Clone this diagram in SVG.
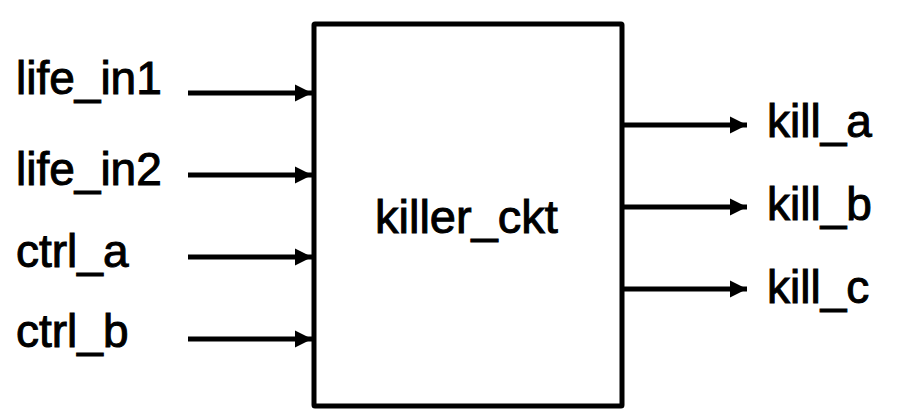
<svg xmlns="http://www.w3.org/2000/svg" width="898" height="418" viewBox="0 0 898 418">
<style>
text{font-family:"Liberation Sans",Arial,sans-serif;font-size:46px;fill:#000;stroke:#000;stroke-width:1}
.w{stroke:#000;stroke-width:5;fill:none}
</style>
<defs>
<marker id="ah" markerUnits="userSpaceOnUse" markerWidth="18" markerHeight="18" refX="17" refY="9" orient="auto">
<path d="M0,0.5 L17,9 L0,17.5 Z" fill="#000"/>
</marker>
</defs>
<rect width="898" height="418" fill="#fff"/>
<g id="killer_ckt">
<rect class="w" x="314" y="24" width="308" height="382" rx="1"/>
<text x="375" y="233" style="font-size:47px">killer_ckt</text>
</g>
<g id="labels">
<text x="16" y="94">life_in1</text>
<text x="16" y="185">life_in2</text>
<text x="16" y="267">ctrl_a</text>
<text x="16" y="347">ctrl_b</text>
<text x="767" y="137">kill_a</text>
<text x="767" y="220">kill_b</text>
<text x="767" y="303">kill_c</text>
</g>
<g id="connectors">
<line class="w" x1="188" y1="93" x2="312" y2="93" marker-end="url(#ah)"/>
<line class="w" x1="188" y1="175" x2="312" y2="175" marker-end="url(#ah)"/>
<line class="w" x1="188" y1="257" x2="312" y2="257" marker-end="url(#ah)"/>
<line class="w" x1="188" y1="339" x2="312" y2="339" marker-end="url(#ah)"/>
<line class="w" x1="622" y1="125" x2="747" y2="125" marker-end="url(#ah)"/>
<line class="w" x1="622" y1="207" x2="747" y2="207" marker-end="url(#ah)"/>
<line class="w" x1="622" y1="289" x2="747" y2="289" marker-end="url(#ah)"/>
</g>
</svg>
